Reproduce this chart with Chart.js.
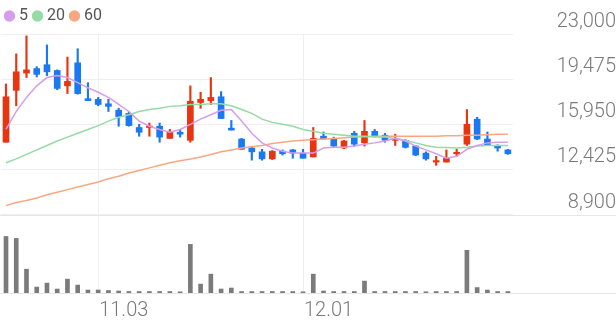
<!DOCTYPE html>
<html>
<head>
<meta charset="utf-8">
<script src="https://cdn.jsdelivr.net/npm/chart.js@4.4.0/dist/chart.umd.min.js"></script>
<style>
  html, body { margin: 0; padding: 0; background: #fff; }
  #wrap { width: 616px; height: 321px; position: relative; }
</style>
</head>
<body>
<div id="wrap"><canvas id="stockChart"></canvas></div>
<script>
// trading days shown on the x axis
const dates = ['10.23','10.24','10.25','10.26','10.27','10.30','10.31','11.01','11.02','11.03',
    '11.06','11.07','11.08','11.09','11.10','11.13','11.14','11.15','11.16','11.17',
    '11.20','11.21','11.22','11.23','11.24','11.27','11.28','11.29','11.30','12.01',
    '12.04','12.05','12.06','12.07','12.08','12.11','12.12','12.13','12.14','12.15',
    '12.18','12.19','12.20','12.21','12.22','12.26','12.27','12.28','01.02','01.03'];
const shownDates = ['11.03', '12.01'];

const opens  = [14550,18600,19950,20300,20600,20150,18950,20750,17950,17900,
                17550,17050,16800,15700,15700,15800,14850,15330,14700,17650,
                17800,18100,15650,14800,14100,13800,13250,13850,13950,13700,
                13400,15020,14850,14100,15250,14500,15400,15100,14700,14700,
                14250,13700,13000,13000,13650,14400,16350,14800,14300,13950];
const highs  = [19100,21450,22850,20450,22150,20200,21200,21850,19200,18050,
                17900,17200,16900,15950,16050,16050,15550,15550,18950,18450,
                19600,18500,16250,14850,14150,14000,13900,13950,14000,14000,
                15700,15350,14950,14700,15400,16250,15550,15250,15180,14750,
                14300,13800,13450,13950,14000,17100,16500,15350,14350,14000];
const lows   = [14550,17400,19600,19650,19750,18650,18350,18300,17800,17400,
                16950,15800,15800,15020,15020,14550,14850,14950,14550,17200,
                17500,16400,15500,14000,13150,13150,13200,13550,13300,13300,
                13400,14800,14150,14050,14250,14250,14950,14550,14300,14100,
                13500,13150,12750,13000,13450,14300,14750,14300,13850,13600];
const closes = [18100,20050,20200,19850,20050,18750,19300,18350,17800,17500,
                17350,16550,15850,15330,15800,14950,15350,15180,17750,17900,
                18050,16400,15500,14000,13800,13250,13850,13650,13700,13300,
                14850,14800,14250,14650,14400,15400,15020,14700,14850,14150,
                13550,13250,13100,13300,13700,15950,14800,14300,14100,13650];
const volumes = [570,550,240,60,100,40,140,80,30,30,
                 25,20,15,15,15,15,15,12,490,90,
                 190,40,50,15,15,15,15,15,15,12,
                 190,20,15,15,15,120,15,15,15,15,
                 15,12,15,15,15,430,55,30,15,15];

// moving averages
const ma5  = [15550,16950,18050,18950,19600,19750,19600,19200,18800,18450,
              18050,17500,16950,16200,15800,15550,15330,15550,15950,16350,
              16700,17050,17100,16200,15250,14500,14100,13850,13700,13700,
              13700,14100,14150,14150,14250,14400,14500,14650,14850,14650,
              14250,13950,13650,13300,13450,14000,14300,14500,14550,14550];
const ma20 = [12950,13250,13600,13950,14300,14650,14950,15250,15550,15850,
              16200,16500,16700,16950,17100,17200,17350,17400,17500,17500,
              17550,17550,17400,17100,16800,16350,16100,15950,15800,15550,
              15400,15250,15175,15100,15020,15020,14950,14950,14850,14700,
              14500,14300,14150,14130,14100,14150,14250,14300,14300,14300];
const ma60 = [9600,9850,10000,10200,10450,10650,10850,11050,11250,11450,
              11700,11900,12150,12350,12550,12750,12950,13100,13250,13400,
              13600,13800,13950,14100,14200,14300,14450,14550,14650,14700,
              14750,14800,14850,14900,14950,14980,15020,15020,15020,15020,
              15020,15020,15020,15060,15060,15100,15100,15140,15175,15175];

const priceTicks = [8900, 12425, 15950, 19475, 23000];

const UP = '#e8340f';
const DOWN = '#1a78f0';
const MA_COLORS = ['#d69ded', '#94dba5', '#f8a782'];

function candleColor(ctx) {
    const i = ctx.dataIndex;
    return closes[i] >= opens[i] ? UP : DOWN;
}

// full-width separator lines under the price panel and the volume panel
const separatorLines = {
    id: 'separatorLines',
    beforeDatasetsDraw(chart) {
        const { ctx, width } = chart;
        const ys = [
            chart.scales.y.getPixelForValue(priceTicks[0]),
            chart.scales.yv.getPixelForValue(0)
        ];
        ctx.save();
        ctx.strokeStyle = '#e6e6e6';
        ctx.lineWidth = 1;
        ys.forEach(y => {
            const py = Math.round(y) + 0.5;
            ctx.beginPath();
            ctx.moveTo(0, py);
            ctx.lineTo(width, py);
            ctx.stroke();
        });
        ctx.restore();
    }
};

Chart.defaults.font.family = 'Roboto, "Noto Sans", sans-serif';

const ctx = document.getElementById('stockChart').getContext('2d');
const stockChart = new Chart(ctx, {
    data: {
        labels: dates,
        datasets: [
            {
                type: 'line', label: '5', data: ma5,
                borderColor: MA_COLORS[0], backgroundColor: MA_COLORS[0],
                borderWidth: 1.5, pointRadius: 0, yAxisID: 'y', order: 1
            },
            {
                type: 'line', label: '20', data: ma20,
                borderColor: MA_COLORS[1], backgroundColor: MA_COLORS[1],
                borderWidth: 1.5, pointRadius: 0, yAxisID: 'y', order: 1
            },
            {
                type: 'line', label: '60', data: ma60,
                borderColor: MA_COLORS[2], backgroundColor: MA_COLORS[2],
                borderWidth: 1.5, pointRadius: 0, yAxisID: 'y', order: 1
            },
            {
                type: 'bar', label: 'wick',
                data: lows.map((l, i) => [l, highs[i]]),
                backgroundColor: candleColor,
                barThickness: 1.5, grouped: false, yAxisID: 'y', order: 3
            },
            {
                type: 'bar', label: 'body',
                data: opens.map((o, i) => [o, closes[i]]),
                backgroundColor: candleColor,
                barThickness: 6, minBarLength: 1.5, grouped: false, yAxisID: 'y', order: 2
            },
            {
                type: 'bar', label: 'volume', data: volumes,
                backgroundColor: '#7b7b7b',
                barThickness: 4, grouped: false, yAxisID: 'yv', order: 4
            }
        ]
    },
    options: {
        responsive: true,
        maintainAspectRatio: false,
        animation: false,
        layout: { padding: { top: 0, left: 0, right: 0, bottom: 0 } },
        plugins: {
            tooltip: { enabled: false },
            legend: {
                position: 'top',
                align: 'start',
                labels: {
                    filter: item => item.datasetIndex < 3,
                    usePointStyle: true,
                    pointStyle: 'circle',
                    boxWidth: 3,
                    boxHeight: 7,
                    padding: 8,
                    color: '#555',
                    font: { size: 16 }
                }
            }
        },
        scales: {
            x: {
                offset: true,
                grid: {
                    offset: false,
                    drawTicks: false,
                    color: c => shownDates.includes(dates[c.index]) ? '#efefef' : 'rgba(0,0,0,0)'
                },
                border: { display: false },
                ticks: {
                    autoSkip: false,
                    maxRotation: 0,
                    minRotation: 0,
                    align: 'start',
                    labelOffset: 1,
                    padding: 6,
                    color: '#7a7a7a',
                    font: { size: 20, weight: 300 },
                    callback: (v, i) => shownDates.includes(dates[i]) ? dates[i] : ''
                },
                afterFit: s => { s.height = 28; }
            },
            y: {
                position: 'right',
                min: 2780,
                max: 23000,
                afterBuildTicks: s => { s.ticks = priceTicks.map(v => ({ value: v })); },
                // invisible tick marks push the right-aligned labels to the edge
                grid: { color: '#efefef', drawTicks: true, tickLength: 35, tickColor: 'rgba(0,0,0,0)' },
                border: { display: false },
                ticks: {
                    crossAlign: 'far',
                    padding: 0,
                    labelOffset: -12,
                    color: '#7a7a7a',
                    font: { size: 20, weight: 300 },
                    callback: v => v.toLocaleString('en-US')
                },
                afterFit: s => { s.width = 103; }
            },
            yv: {
                display: false,
                min: 0,
                max: 2610
            }
        }
    },
    plugins: [separatorLines]
});
</script>
</body>
</html>
